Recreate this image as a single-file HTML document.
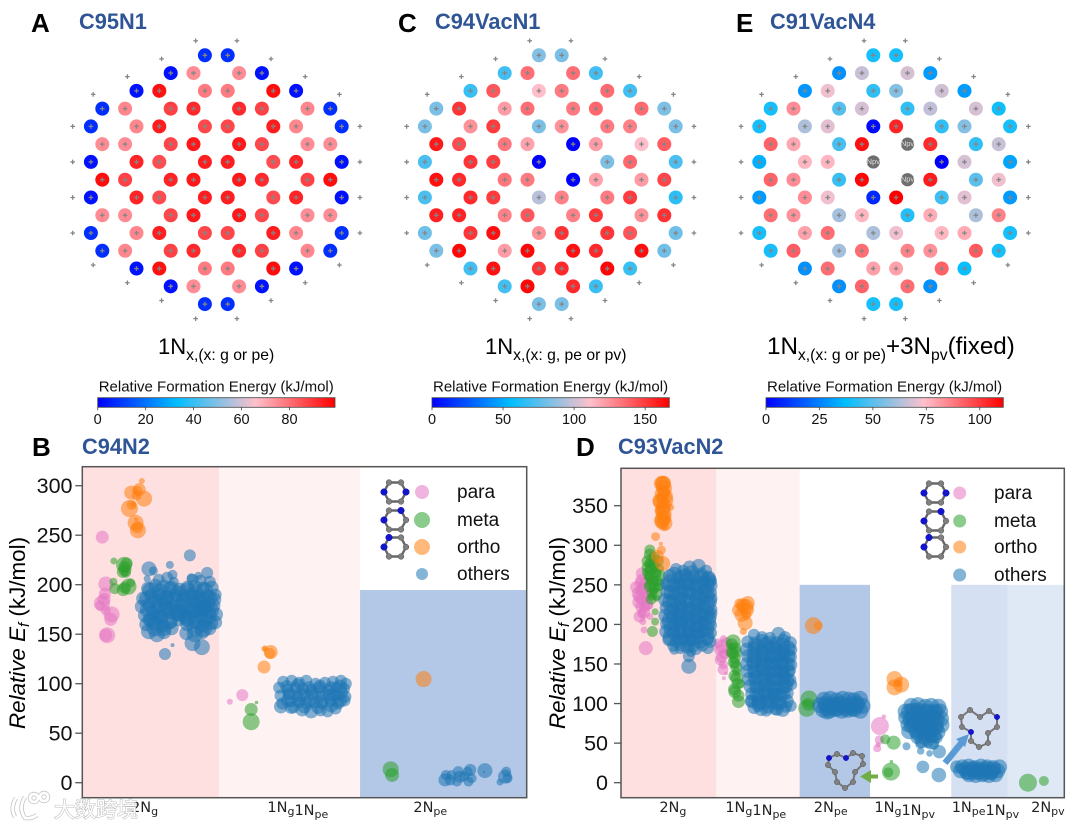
<!DOCTYPE html>
<html lang="en">
<head>
<meta charset="utf-8">
<title>Relative formation energy of N-doped graphene</title>
<style>
html,body{margin:0;padding:0;background:#fff;width:1074px;height:826px;overflow:hidden}
svg{display:block;font-family:"Liberation Sans",Arial,sans-serif;filter:blur(0.35px)}
.dj{font-family:"DejaVu Sans",sans-serif}
</style>
</head>
<body>
<svg id="fig" xmlns="http://www.w3.org/2000/svg" width="1074" height="826" viewBox="0 0 1074 826">
<defs>
<linearGradient id="cmap" x1="0" x2="1" y1="0" y2="0">
<stop offset="0" stop-color="#0000ff"/><stop offset="0.3333" stop-color="#00bfff"/><stop offset="0.6667" stop-color="#ffc0cb"/><stop offset="1" stop-color="#ff0000"/>
</linearGradient>
</defs>
<g id="layer-lattice"></g>
<g id="layer-b"></g>
<g id="layer-d"></g>

<g font-weight="bold" font-size="26" fill="#000">
<text x="31" y="32">A</text>
<text x="398" y="32">C</text>
<text x="736" y="32">E</text>
<text x="32" y="456">B</text>
<text x="576" y="456">D</text>
</g>
<g font-weight="bold" font-size="21.8" fill="#2f5597">
<text x="79" y="29">C95N1</text>
<text x="435" y="29">C94VacN1</text>
<text x="770" y="29">C91VacN4</text>
<text x="82" y="454">C94N2</text>
<text x="618" y="454">C93VacN2</text>
</g>
<g font-size="22" fill="#000">
<text x="158" y="354">1N<tspan font-size="15.7" dy="6">x,(x: g or pe)</tspan></text>
<text x="485" y="354">1N<tspan font-size="15.7" dy="6">x,(x: g, pe or pv)</tspan></text>
<text x="767" y="354" font-size="24.2">1N<tspan font-size="15.7" dy="6">x,(x: g or pe)</tspan><tspan dy="-6">+3N</tspan><tspan font-size="15.7" dy="6">pv</tspan><tspan dy="-6">(fixed)</tspan></text>
</g>
<g font-size="22.4" fill="#000">
<text transform="translate(25,633) rotate(-90)" text-anchor="middle"><tspan font-style="italic">Relative E</tspan><tspan font-style="italic" font-size="15" dy="4">f</tspan><tspan dy="-4"> (kJ/mol)</tspan></text>
<text transform="translate(565,633) rotate(-90)" text-anchor="middle"><tspan font-style="italic">Relative E</tspan><tspan font-style="italic" font-size="15" dy="4">f</tspan><tspan dy="-4"> (kJ/mol)</tspan></text>
</g>
<g id="layer-annot"></g>
<g>
<g fill="none" stroke="#c4c4c4" stroke-width="4.4">
<path d="M16 798 q-6 10 -1 19"/><path d="M25 797 q-7 11 0 21 q7 1 12 -3"/>
<circle cx="34" cy="798" r="4"/><circle cx="44" cy="797" r="4"/>
</g>
<g fill="none" stroke="#fff" stroke-width="2.8">
<path d="M16 798 q-6 10 -1 19"/><path d="M25 797 q-7 11 0 21 q7 1 12 -3"/>
<circle cx="34" cy="798" r="4"/><circle cx="44" cy="797" r="4"/>
</g>
<text x="54" y="817" font-size="21" fill="#fff" stroke="#bdbdbd" stroke-width="1.1" paint-order="stroke" style="font-family:'Noto Sans CJK SC',sans-serif">大数跨境</text>
</g>
</svg>

<script>
/* ---------- lattice data ---------- */
const latticeRowIndex=[-7,-6,-5,-4,-3,-2,-1,0,1,2,3,4,5,6,7];
const latticeColumns=[
 [-1,1],[-4,-2,2,4],[-7,-5,-1,1,5,7],[-10,-8,-4,-2,2,4,8,10],[-11,-7,-5,-1,1,5,7,11],
 [-10,-8,-4,-2,2,4,8,10],[-11,-7,-5,-1,1,5,7,11],[-10,-8,-4,-2,2,4,8,10],[-11,-7,-5,-1,1,5,7,11],
 [-10,-8,-4,-2,2,4,8,10],[-11,-7,-5,-1,1,5,7,11],[-10,-8,-4,-2,2,4,8,10],[-7,-5,-1,1,5,7],[-4,-2,2,4],[-1,1]];
const edgeSiteCol=[-1.81,1.81,-4.8,4.8,-7.8,7.8,-10.8,10.8,-12.6,12.6,-12.6,12.6,-12.6,12.6,-12.6,12.6,-10.8,10.8,-7.8,7.8,-4.8,4.8,-1.81,1.81];
const edgeSiteRow=[-7.82,-7.82,-6.8,-6.8,-5.8,-5.8,-4.8,-4.8,-3,-3,-1,-1,1,1,3,3,4.8,4.8,5.8,5.8,6.8,6.8,7.82,7.82];

const energiesA=[
 [8,8],[3,75,75,3],[3,96,78,78,97,3],[8,76,88,92,92,88,76,8],[8,76,94,87,87,94,76,8],
 [75,75,87,95,95,87,75,75],[3,93,86,94,94,86,93,3],[97,88,93,95,95,92,88,97],[3,93,86,94,94,86,93,3],
 [75,75,87,95,95,87,75,75],[8,76,94,87,87,94,76,8],[8,76,88,92,92,88,76,8],[3,96,78,78,97,3],[3,75,75,3],[8,8]];
const energiesC=[
 [84,82],[70,135,135,70],[68,142,112,132,136,70],[82,152,122,135,132,137,136,83],[82,125,150,82,125,132,130,82],
 [160,145,133,120,0,122,112,140],[72,152,150,0,null,83,137,72],[162,155,133,132,0,120,122,147],[72,155,150,96,130,132,150,65],
 [158,157,130,142,130,152,125,153],[80,152,163,125,153,152,143,80],[82,165,122,165,162,155,163,80],[70,162,152,155,165,68],[70,165,155,68],[82,82]];
const energiesE=[
 [40,40],[28,66,68,30],[29,72,44,56,67,30],[40,84,49,68,44,65,68,39],[40,62,70,2,104,44,56,40],
 [92,79,47,108,'N',103,44,66],[34,76,76,'N',null,0,68,32],[92,84,45,110,'N',106,50,72],[30,84,72,8,112,46,70,30],
 [90,83,61,76,42,78,62,86],[40,80,90,62,72,76,78,40],[40,93,61,90,86,83,94,40],[28,90,80,80,92,38],[28,92,90,28],[40,40]];

const cbarTicksA=[0,20,40,60,80];
const cbarTicksC=[0,50,100,150];
const cbarTicksE=[0,25,50,75,100];
const vmaxA=99, vmaxC=167, vmaxE=111;
const cmapStops=[[0,0,255],[0,191,255],[255,192,203],[255,0,0]];

/* ---------- panel B data (x = position across axis 0-100, y = kJ/mol, w = marker weight) ---------- */
const bCategories=['2N|g','1N|g|1N|pe','2N|pe'];
const bCategoryCentres=[14,48.5,78.3];
const bBandEdges=[0,30.8,62.5,100];
const bYTicks=[0,50,100,150,200,250,300];
const bThreshold=194.6;

const bParaX=[4.5,5.3,5.1,4.4,4.9,6.6,6.4,5.3,5.6,4.0,5.3,36,33.2];
const bParaY=[248,200.7,191,181,185,170,165,149,149,179,174,88.5,81.8];
const bParaW=[6.5,7.5,6,8,6.5,8,6.5,6.5,8,5,5,6,3];

const bMetaX=[7.1,9.4,9.6,10,9.1,7,7.3,10.4,9.2,10.9,9.5,9.8,9.6,38,38,39.2,69.4,69.7];
const bMetaY=[224,220,215,221.5,213,203,196,198,195,202,218,212,197,74,61.6,81,13.5,7.8];
const bMetaW=[3.5,8,6.5,6,6,4,5.5,8,6.5,4.5,6,5,6,6.5,8.5,1.8,8,7];

const bOrthoX=[13.4,11,12.8,12.4,13.9,11.1,10.6,12,12.5,12.1,11.5,12.2,12.4,41.1,42.2,42.4,40.9,40.9,76.8];
const bOrthoY=[304.7,293,296,295,287,280.5,277,262.6,255,266,281,290,258,135.7,130.6,132,116.9,135,104.7];
const bOrthoW=[3,7,6.5,5,8,5,8.5,8,8,2,3,5,6,3,5.5,7,6.5,2.5,8];

const bOthersX=[24.2,19.7,15,18.6,20.3,26.9,24.8,28.1,26.1,24.5,20.3,16,14.6,
 17.2,19.1,20.6,24.8,26.6,28.7,14.8,16.4,18.3,20.1,21.9,23.7,25.3,27.2,29.1,30,
 13.7,15.6,17.4,19.2,21,22.8,24.5,26.4,28.2,29.7,13.4,15,16.9,18.6,20.4,22.2,24,25.8,27.6,29.5,
 14.1,15.9,17.7,19.5,21.3,23.1,24.9,26.7,28.5,30.1,14.4,16.2,18,19.8,21.7,23.6,25.4,27.2,29,29.9,
 15,16.8,18.4,20.1,23.4,25.3,27,28.6,
 17.9,19.8,22.5,25.1,27,15.1,17.2,23.4,26.2,28.4,
 45.2,47.1,48.8,50.4,52.5,54.6,56.4,58.2,59.3,44.3,46.2,48,49.7,51.6,53.4,55.3,57.1,58.9,
 44.6,46.5,48.3,50.1,51.9,53.7,55.5,57.3,59.2,45,46.9,48.7,50.5,52.2,54,55.8,57.6,59,
 44.7,47.5,49.5,51.5,53.6,55.2,57,
 81.8,81.6,83.1,84.6,85,86.7,86.9,87.3,87.6,85.9,84.3,82.8,90.6,90.4,95.1,95.4,94,95.7];
const bOthersY=[229.6,220,216,130,139,137,141,212,209,207,210,214,206,
 205,207,203,205,204,203,196,199,198,197,195,197,198,196,197,190,
 186,189,190,187,189,188,190,187,189,185,178,180,177,181,178,180,177,181,178,179,
 169,171,168,172,170,168,171,169,172,170,160,161,159,162,165,160,162,159,161,162,
 153,150,152,156,151,150,152,156,
 184,176,174,183,175,165,170,165,174,181,
 102,103,101,103,100,101,102,103,100,96,94,96,95,94,96,94,96,95,
 88,89,87,89,88,87,89,88,87,80,82,81,80,81,80,82,80,83,
 77,76,74,72,73,72,75,
 7.8,2.8,7.8,11.2,6.1,11.2,1.1,12.9,4.5,6.1,1.1,2.8,12.2,10.9,6.1,11.2,0.7,4.5];
const bOthersW=[6,4,7.5,6,2,8,8,6,4,4.5,5,4.5,3.5,
 6,6,5,6,6,6,7,7,7,7,7,7,7,7,7,6,
 7,7,7,7,7,7,7,7,7,7,7,7,7,7,7,7,7,7,7,7,
 7,7,7,7,7,7,7,7,7,7,7,7,7,7,7,7,7,7,7,7,
 8,8,7,7,7,8,7,7,
 7,7,7,7,7,7,7,7,7,7,
 6,6,6,6,6,6,6,6,6,6,6,6,6,6,6,6,6,6,
 6,6,6,6,6,6,6,6,6,6,6,6,6,6,6,6,6,6,
 7,6,7,7,6,6,6,
 5,6.5,5,5.5,6,5,5,6,5,5,5,5.5,7.5,1.2,7,5,3.5,5];

const bCoreX=[15.4,17.5,19.6,21.4,23.6,25.5,27.6,14.8,16.6,18.7,20.8,22.9,24.9,26.9,28.6,14.9,16.8,18.9,20.9,23,25,27,28.7,15.6,17.5,19.4,21.8,23.8,25.7,27.6,28.4,16.4,18.3,25.4,27.2,
 46,48.5,51,53.5,56,58,46.5,49,51.5,54,56.5,58.2,46.2,48.7,51.2,53.7,56.2,58,47,50,53,56];
const bCoreY=[194,192,195,191,193,192,194,185,184,186,184,183,186,184,186,175,174,176,173,175,174,176,174,165,166,164,171,166,165,166,168,157,156,156,156,
 97,98,96,97,96,97,90,89,91,90,89,91,83,84,83,82,84,83,76,77,76,78];
const bCoreW=[8.5,9,8,8.5,9,8,8.5,9,8,8.5,9,8,8.5,9,8,8.5,9,8,8.5,9,8,8.5,9,8,8.5,9,8,8.5,9,8,8.5,9,8,8.5,9,
 6.5,7,6.5,7,6.5,7,6.5,7,6.5,7,6.5,7,6.5,7,6.5,7,6.5,7,6.5,7,6.5,7];

/* ---------- panel D data ---------- */
const dCategories=['2N|g','1N|g|1N|pe','2N|pe','1N|g|1N|pv','1N|pe|1N|pv','2N|pv'];
const dCategoryCentres=[11.7,30.4,47.3,64,82.2,96.3];
const dBandEdges=[0,21.5,40.3,56.2,74.5,87.2,100];
const dYTicks=[0,50,100,150,200,250,300,350];
const dThreshold=250;

const dParaX=[4.7,4.3,4,5,4.7,5.8,4.3,5.4,4.7,6.2,5.2,4.9,6.5,6.9,5.6,
 22.9,22.7,23.1,21.9,24.2,23.2,23.7,23.1,
 58.4,59.3,58.3,57.8,58,
 3.4,4.6,5.5,5.6,3.9,5.2,4.2,5.9,4.6,4.1,
 22.2,23.4,23.8,22.4,23];
const dParaY=[264.5,252,239,245.6,231,235,222,222,214,224.5,193,203.5,210,256,170,
 172,159,149,176,165.5,132,138,182,
 71.6,83.5,54,43.5,48,
 247,256,252,240,228,215,210,226,243,235,
 168,163,177,155,143];
const dParaW=[6,5.5,7,6,6,5.5,5,5.5,5,5,3.5,3.5,3.5,4,7,
 7,6,4.5,5,4.5,2,1.8,3.5,
 9,2.3,4.7,4,2.6,
 6,6,6,6,6,6,6,6,6,6,
 5.5,5.5,5.5,5.5,5.5];

const dMetaX=[6.5,6.9,6.2,7.7,6.5,5.6,8,6.5,7.7,6.2,7.3,8.4,6.9,8,7.7,7.7,7.1,6.5,7.3,8.8,6.2,
 25.3,25.2,25.7,26.1,26.1,25.7,26.5,25,27,
 42.4,41.9,42.3,
 61.5,59.6,60.9,60.3,61,
 91.8,95.4,
 6.5,7.5,6,7.4,8.3,5.9,6.8,7.9,8.8,6.3,7.1,8.2,6.5,7.5,8.7,7,8,6.8,
 25,25.8,25,25.7,25.4,26,25.6,26.3,25.5,26.5,26];
const dMetaY=[294,283.5,277,277,269,266,264.5,258,254,250,243,247.5,235,233,216,203.5,191,277,269,271,260,
 178,163.5,151,140.5,132,115,102.5,172,125,
 105.8,94,99,
 50.6,54.8,14,13.1,26.6,
 0,2.2,
 288,285,280,275,280,272,270,265,262,262,255,255,248,246,250,240,238,232,
 175,170,165,158,152,146,135,125,118,110,165];
const dMetaW=[5.5,4.5,4.5,4.5,5.5,4,5,5,4.5,4,4.5,4.5,4,3.5,3.5,4,5.5,4.5,4.5,4,4.5,
 7.5,6,5.5,4.5,6.5,6.5,6.5,4,4.5,
 8.5,8.5,6.5,
 7,5,9,5,1.8,
 9,5,
 6,5.5,6,5.5,6,5.5,6,5.5,6,5.5,6,5.5,6,5.5,6,5.5,6,5.5,
 6,6,6,6,6,6,6,6,6,6,6];

const dOrthoX=[9.5,8.9,9.9,9.3,9.7,9.9,7.8,9,8.2,9.4,9.1,11.2,9.7,8.7,
 28.1,26.5,28,26.8,27.6,28.3,
 43.4,44.5,
 61.7,61.7,63.2,62.6,
 9.5,9.7,9.3,9,9.7,9.6,9.2,9.8,9.4,9.9,9.1,
 27.5,28.4,27.2,28.6];
const dOrthoY=[378,356,357,332,335,323.5,311,302,286,277,294,348,368,344,
 222,218,202,226,191,212,
 198.5,198.5,
 131,120.5,124,125.6,
 378,372,365,355,350,340,330,328,345,362,378,
 224,218,212,227];
const dOrthoW=[8,8,8.5,8,7.5,4,4.5,2,6.5,7.5,4.5,3.5,6,5,
 8,6.5,7.5,5.5,3.5,5,
 8.5,4.5,
 8,8,8,4,
 7.5,8,7.5,8,7.5,8,7.5,8,7.5,8,7.5,
 7,7,7,7];

const dOthersX=[
 12.4,14,15.5,17.5,19.2,11,12.9,14.6,16.3,18.1,19.8,20.3,10.2,11.8,13.4,15.1,16.8,18.5,20.2,
 10.5,12.2,13.9,15.6,17.3,19,20.3,10,11.7,13.3,15,16.7,18.4,20.1,20.4,10.3,12,13.6,15.3,17,18.7,20.4,
 10,11.6,13.2,14.9,16.6,18.3,20,20.4,10.4,12.1,13.8,15.5,17.2,18.9,20.3,10.2,11.9,13.5,15.2,16.9,18.6,20.3,
 10.9,12.6,14.3,16,17.7,19.4,20.2,11.8,13.4,15,16.8,18.4,19.6,15.3,15.3,12,15.8,
 30,31.8,33.6,35.5,37,28.6,30.2,31.8,33.4,35,36.6,38.2,28.4,30,31.7,33.3,34.9,36.5,38.3,
 28.7,30.3,31.9,33.5,35.1,36.7,38.1,28.4,30,31.6,33.2,34.8,36.4,38.3,28.6,30.2,31.8,33.4,35,36.6,38,
 28.9,30.5,32.1,33.7,35.3,36.9,38.1,29.2,30.8,32.4,34,35.6,37.2,38.4,29.6,31.2,32.8,34.4,36,37.5,
 29.5,31.1,32.7,34.3,35.9,37.4,30,31.6,33.2,34.8,36.5,38.3,29.4,31,32.8,35.3,37.2,
 45.8,47.2,48.6,50,51.4,52.6,53.9,44.9,46.3,47.7,49.1,50.5,51.9,53.3,54.5,45.6,47,48.4,49.8,51.2,52.6,54,46.5,
 65.5,67,68.6,70,71.6,64.2,65.8,67.4,69,70.6,72,64.1,65.7,67.3,68.9,70.5,72.2,64.6,66.2,67.8,69.4,71,72.3,
 65,66.6,68.2,69.8,71.4,66.8,68.4,70,71.2,67.5,69.2,70.6,64.4,68.1,71.7,71.8,67.6,69.6,
 77,78.4,79.8,81.2,82.6,84,85.4,76.6,78,79.4,80.8,82.2,83.6,85,78.5,80,81.5,83,84.5,75.7];
const dOthersY=[
 270,268,272,274,268,261,259,262,260,263,259,255,251,249,252,250,248,252,249,
 241,239,242,240,238,242,240,231,229,232,230,228,232,229,233,221,219,222,220,218,222,219,
 211,209,212,210,208,212,209,214,201,199,202,200,198,202,199,191,189,192,190,188,192,189,
 181,179,182,180,178,182,178,173,170,172,170,173,170,147,160,168,165,
 187,184,183,188,184,178,176,179,177,176,179,177,168,170,167,169,170,167,168,
 160,158,161,159,158,161,159,150,152,149,151,150,152,149,141,140,142,139,141,140,142,
 131,133,130,132,131,133,130,122,120,123,121,120,122,124,112,111,113,112,111,113,
 103,101,104,102,101,103,95,93,96,94,92,97,103,98,91,92,96,
 105,106,104,106,105,104,106,98,97,99,98,97,99,98,97,92,91,93,91,92,93,91,90,
 97,98,96,97,96,90,91,89,90,88,90,82,83,81,82,83,81,73,74,72,74,72,73,
 65,66,64,66,64,57,56,58,57,49,50,48,46,20,9.7,39.2,40,37,
 20,21,19,21,20,19,20,15,13,15,14,15,13,15,10,9,10,9,10,20];
const dOthersW=[
 6,6,7,7,6,7,7,7,7,7,7,6,6,7,7,7,7,7,7,
 7,7,7,7,7,7,6,7,7,7,7,7,7,7,6,7,7,7,7,7,7,6,
 7,7,7,7,7,7,7,6,7,7,7,7,7,7,6,7,7,7,7,7,7,6,
 7,7,7,7,7,7,6,6,6,7,7,6,6,7.5,6,5,5,
 6,6,6,7,6,6.5,7,7,7,7,7,6.5,7,7,7,7,7,7,6.5,
 7,7,7,7,7,7,7,7,7,7,7,7,7,6.5,7,7,7,7,7,7,6.5,
 7,7,7,7,7,7,6.5,7,7,7,7,7,7,6,7,7,7,7,7,6.5,
 7,7,7,7,7,7,6.5,7,7,7,7,6,6,7,6,6,6,
 8,8,8,8,8,8,8,8,8,8,8,8,8,8,8,8,8,8,8,8,8,8,8,
 8,8,8,8,8,8,8,8,8,8,8,7,8,8,8,8,8,7,8,8,8,8,8,
 8,8,8,8,8,6.5,6.5,6.5,6,5,5,5,4,6.3,7.3,6.7,3.7,3.3,
 7.5,7.5,7.5,7.5,7.5,7.5,7.5,7.5,7.5,7.5,7.5,7.5,7.5,7.5,7.5,7.5,7.5,7.5,7.5,6.5];

const dCoreX=[12,14.1,16,18,19.6,11.2,13.2,15.2,17.2,19.1,11.5,13.4,15.4,17.5,19.2,11.3,13.1,15.1,17.1,19.3,11.6,13.5,15.6,17.6,19.2,11.2,13.2,15.2,17.3,19.4,11.5,13.6,15.5,17.4,19.2,11.4,13.3,15.2,17.2,19.1,14,16,
 30.6,32.6,34.4,36.4,37.6,30.2,32.2,34.1,36.1,37.5,30,32,33.9,35.9,37.4,30.3,32.2,34.2,36.2,37.4,30.4,32.5,34.4,36.4,37.3,30.7,32.7,34.6,36.5,30.8,32.8,34.7,36.4,31.3,33.4,35.4,
 46,47.8,49.6,51.4,53.2,46.8,48.6,50.4,52.2,
 65,67,69,71,65.3,67.3,69.3,71.2,65.6,67.6,69.6,71,67,69,70.5,68,70,
 77.6,79.2,80.8,82.4,84,78.4,80,81.8,83.4];
const dCoreY=[262,258,264,258,256,252,247,254,247,250,240,236,243,235,238,228,224,229,224,226,216,213,217,212,215,205,204,206,202,204,195,193,195,193,195,184,184,184,185,185,176,176,
 172,174,171,173,170,162,163,160,163,160,152,153,151,153,150,142,144,141,143,140,132,133,131,133,129,122,123,120,122,112,113,110,112,102,103,101,
 100,97,100,96,100,94,94,94,94,
 90,91,89,90,80,81,79,80,72,71,72,70,63,62,60,54,52,
 17,18,17,18,17,13,13,12,13];
const dCoreW=[8.5,9,8.5,9,8.5,9,8.5,9,8.5,9,8.5,9,8.5,9,8.5,9,8.5,9,8.5,9,8.5,9,8.5,9,8.5,9,8.5,9,8.5,9,8.5,9,8.5,9,8.5,9,8.5,9,8.5,9,8.5,9,
 8,8,8,8,8,8,8,8,8,8,8,8,8,8,8,8,8,8,8,8,8,8,8,8,8,8,8,8,8,8,8,8,8,8,8,8,
 8,8,8,8,8,8,8,8,8,
 8,8,8,8,8,8,8,8,8,8,8,8,8,8,8,8,8,
 7.5,7.5,7.5,7.5,7.5,7.5,7.5,7.5,7.5];

/* ---------- legend ---------- */
const legendLabels=['para','meta','ortho','others'];
const seriesColors=['#e377c2','#2ca02c','#ff7f0e','#1f77b4'];

/* ---------- helpers ---------- */
const NS='http://www.w3.org/2000/svg';
function mk(parent,tag,attrs){
  const el=document.createElementNS(NS,tag);
  for(const k in attrs) el.setAttribute(k,attrs[k]);
  parent.appendChild(el);
  return el;
}
function cmapColor(t){
  t=Math.max(0,Math.min(1,t));
  const s=t*3, i=Math.min(2,Math.floor(s)), f=s-i;
  const a=cmapStops[i], b=cmapStops[i+1];
  return 'rgb('+[0,1,2].map(k=>Math.round(a[k]+(b[k]-a[k])*f)).join(',')+')';
}

/* ---------- lattice panels ---------- */
function drawLattice(root,cx,cy,energies,vmax,prefix){
  const g=mk(root,'g',{});
  
  
  const sx=c=>cx+c*11.4, sy=r=>cy+r*17.77;
  function plus(x,y){
    const p=mk(g,'path',{d:`M${x-2.3} ${y}H${x+2.3}M${x} ${y-2.3}V${y+2.3}`,stroke:'#858585','stroke-width':1.3,fill:'none'});
    
    
  }
  latticeRowIndex.forEach((r,ri)=>{
    latticeColumns[ri].forEach((c,ci)=>{
      const v=energies[ri][ci];
      if(v===null) return;
      const x=sx(c), y=sy(r);
      if(v==='N'){
        const d=mk(g,'circle',{cx:x,cy:y,r:6.6,fill:'#6f6f6f'});
        
        
        const t=mk(g,'text',{x:x,y:y+2,'font-size':7.5,fill:'#ddd','text-anchor':'middle'});
        
        
        t.textContent='Npv';
      }else{
        const d=mk(g,'circle',{cx:x,cy:y,r:7,fill:cmapColor(v/vmax)});
        
        
        plus(x,y);
      }
    });
  });
  edgeSiteCol.forEach((c,i)=>plus(sx(c),sy(edgeSiteRow[i])));
}
function drawColorbar(root,x0,vmax,ticks,prefix){
  const g=mk(root,'g',{});
  
  
  const w=237.3, y0=397.7, h=9.6;
  const sc=v=>x0+v/vmax*w;
  const t=mk(g,'text',{x:x0+1,y:391.5,'font-size':15,fill:'#111'});
  
  
  t.textContent='Relative Formation Energy (kJ/mol)';
  const b=mk(g,'rect',{x:x0,y:y0,width:w,height:h,fill:'url(#cmap)',stroke:'#444','stroke-width':0.8});
  
  
  ticks.forEach(v=>{
    const l=mk(g,'line',{x1:sc(v),x2:sc(v),y1:y0+h,y2:y0+h+3,stroke:'#444','stroke-width':0.8});
    
    
    const tl=mk(g,'text',{x:sc(v),y:424,'font-size':14.5,'text-anchor':'middle',fill:'#111'});
    
    
    tl.textContent=v;
  });
}
const latRoot=document.getElementById('layer-lattice');
drawLattice(latRoot,216.3,179.7,energiesA,vmaxA,'panel-a');
drawLattice(latRoot,550.3,179.7,energiesC,vmaxC,'panel-c');
drawLattice(latRoot,884.7,179.7,energiesE,vmaxE,'panel-e');
drawColorbar(latRoot,97.7,vmaxA,cbarTicksA,'panel-a');
drawColorbar(latRoot,432,vmaxC,cbarTicksC,'panel-c');
drawColorbar(latRoot,766,vmaxE,cbarTicksE,'panel-e');

/* ---------- scatter panels ---------- */
function drawSeries(root,xs,ys,ws,color,sx,sy,name){
  const g=mk(root,'g',{fill:color,'fill-opacity':0.55});
  
  
  xs.forEach((x,i)=>{
    const c=mk(g,'circle',{cx:sx(x),cy:sy(ys[i]),r:ws[i%ws.length]});
    
    
  });
}
function categoryLabel(root,spec,x,y){
  const parts=spec.split('|');
  const t=mk(root,'text',{x:x,y:y,'font-size':14.5,'text-anchor':'middle',fill:'#222',class:'dj'});
  
  
  let sub=false;
  parts.forEach(p=>{
    const s=mk(t,'tspan',{});
    if(sub){s.setAttribute('font-size','11');s.setAttribute('dy','3');}
    else if(p!==parts[0]){s.setAttribute('dy','-3');}
    s.textContent=p;
    sub=!sub;
  });
}
function molecule(root,cx,cy,blue,name){
  const g=mk(root,'g',{});
  
  
  const pts=[[-6,-9.5],[6,-9.5],[11,0],[6,9.5],[-6,9.5],[-11,0]].map(p=>[cx+p[0],cy+p[1]]);
  mk(g,'polygon',{points:pts.map(p=>p.join(',')).join(' '),fill:'none',stroke:'#666','stroke-width':2.4});
  pts.forEach((p,i)=>{
    mk(g,'circle',{cx:p[0],cy:p[1],r:blue.includes(i)?3.3:2.9,fill:blue.includes(i)?'#1414c8':'#808080',stroke:blue.includes(i)?'#1414c8':'#555','stroke-width':0.5});
  });
}
function drawLegend(root,iconX,dotX,textX,ys,rs,fontSize,prefix){
  const blues=[[2,5],[1,5],[0,5]];
  legendLabels.forEach((lab,i)=>{
    if(i<3) molecule(root,iconX,ys[i],blues[i],prefix+'-legend-molecule-'+lab);
    const c=mk(root,'circle',{cx:dotX,cy:ys[i],r:rs[i],fill:seriesColors[i],'fill-opacity':0.55});
    
    
    const t=mk(root,'text',{x:textX,y:ys[i]+6,'font-size':fontSize,fill:'#111'});
    
    
    t.textContent=lab;
  });
}
function axesFrame(root,L,T,R,B,sy,yTicks,tickLabelX){
  const f=mk(root,'rect',{x:L,y:T,width:R-L,height:B-T,fill:'none',stroke:'#555','stroke-width':1.5});
  
  
  yTicks.forEach(v=>{
    const l=mk(root,'line',{x1:L-7,x2:L,y1:sy(v),y2:sy(v),stroke:'#555','stroke-width':1.3});
    
    
    const t=mk(root,'text',{x:tickLabelX,y:sy(v)+7.5,'font-size':21.5,'text-anchor':'end',fill:'#111'});
    
    
    t.textContent=v;
  });
}
function band(root,x,y,w,h,fill,name){
  const r=mk(root,'rect',{x:x,y:y,width:w,height:h,fill:fill});
  
  
}

/* panel B */
(function(){
  const root=document.getElementById('layer-b');
  const L=82.3,R=526.7,T=466.7,B=797.7;
  const sx=v=>L+v/100*(R-L), sy=v=>782.7-v*0.99;
  const cols=['#ffe0e0','#fff2f2','#b3c7e6'];
  bCategories.forEach((c,i)=>{
    const top=i===2?sy(bThreshold):T;
    band(root,sx(bBandEdges[i]),top,sx(bBandEdges[i+1])-sx(bBandEdges[i]),B-top,cols[i],'category-band');
  });
  drawSeries(root,bParaX,bParaY,bParaW,seriesColors[0],sx,sy,'para-series-b');
  drawSeries(root,bMetaX,bMetaY,bMetaW,seriesColors[1],sx,sy,'meta-series-b');
  drawSeries(root,bOrthoX,bOrthoY,bOrthoW,seriesColors[2],sx,sy,'ortho-series-b');
  drawSeries(root,bOthersX,bOthersY,bOthersW,seriesColors[3],sx,sy,'others-series-b');
  drawSeries(root,bCoreX,bCoreY,bCoreW,seriesColors[3],sx,sy,'others-core-b');
  axesFrame(root,L,T,R,B,sy,bYTicks,72.5);
  bCategories.forEach((c,i)=>categoryLabel(root,c,sx(bCategoryCentres[i]),812));
  drawLegend(root,395,422,457,[492,520,547,574],[7,8,8,6],19,'panel-b');
})();

/* panel D */
(function(){
  const root=document.getElementById('layer-d');
  const L=621,R=1064.3,T=468.3,B=797.7;
  const sx=v=>L+v/100*(R-L), sy=v=>782.7-v*0.7914;
  const cols=['#ffe0e0','#fff2f2','#b3c7e6','#ffffff','#d5e0f2','#dfe9f6'];
  dCategories.forEach((c,i)=>{
    const top=i>=2?sy(dThreshold):T;
    band(root,sx(dBandEdges[i]),top,sx(dBandEdges[i+1])-sx(dBandEdges[i]),B-top,cols[i],'category-band');
  });
  drawSeries(root,dParaX,dParaY,dParaW,seriesColors[0],sx,sy,'para-series-d');
  drawSeries(root,dMetaX,dMetaY,dMetaW,seriesColors[1],sx,sy,'meta-series-d');
  drawSeries(root,dOrthoX,dOrthoY,dOrthoW,seriesColors[2],sx,sy,'ortho-series-d');
  drawSeries(root,dOthersX,dOthersY,dOthersW,seriesColors[3],sx,sy,'others-series-d');
  drawSeries(root,dCoreX,dCoreY,dCoreW,seriesColors[3],sx,sy,'others-core-d');
  axesFrame(root,L,T,R,B,sy,dYTicks,608);
  dCategories.forEach((c,i)=>categoryLabel(root,c,sx(dCategoryCentres[i]),812));
  drawLegend(root,935,959.7,994,[493,521,547,575],[6.5,6.5,6.5,6.5],19,'panel-d');
})();

/* annotation structures in panel D */
(function(){
  const root=document.getElementById('layer-annot');
  function chain(nodes,blue,name){
    const g=mk(root,'g',{});
    
    
    mk(g,'polygon',{points:nodes.map(n=>n.join(',')).join(' '),fill:'none',stroke:'#777','stroke-width':2});
    nodes.forEach((n,i)=>{
      mk(g,'circle',{cx:n[0],cy:n[1],r:2.7,fill:blue.includes(i)?'#1414c8':'#808080',stroke:blue.includes(i)?'#1414c8':'#555','stroke-width':0.5});
    });
  }
  chain([[828,765],[829,758],[837,754],[846,758],[853,753],[862,756],[863,764],[855,772],[853,782],[845,788],[837,782],[835,772]],[1,3],'structure-2npe');
  chain([[961,717],[970,710],[980,717],[989,711],[997,717],[997,727],[988,733],[988,743],[979,747],[971,741],[971,732],[962,727]],[4,10],'structure-1npe1npv');
  const a1=mk(root,'path',{d:'M878 776.5H869V773.5L864 776.5 864 776.5 869 779.5 869 776.5',fill:'#6fae45',stroke:'#6fae45','stroke-width':4});
  
  
  const a2=mk(root,'path',{d:'M945 763L963 741',stroke:'#5b9bd5','stroke-width':6.5,fill:'none'});
  
  
  const a3=mk(root,'polygon',{points:'969,734 956,739 965,747',fill:'#5b9bd5'});
  
  
})();
</script>
</body>
</html>
